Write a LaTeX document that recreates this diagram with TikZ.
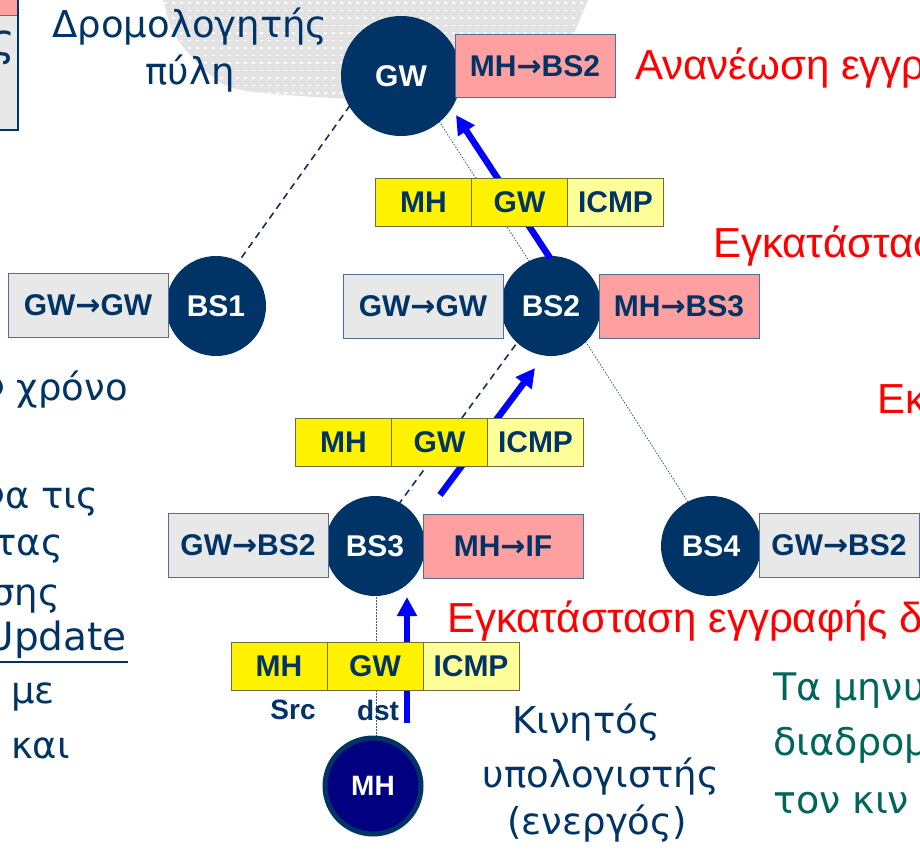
\documentclass[tikz,border=0pt]{standalone}
\usepackage{fontspec}
\setmainfont{Liberation Sans}
\newfontfamily\comic{DejaVu Sans}
\newfontfamily\arrowfont{DejaVu Sans}
\usetikzlibrary{arrows.meta}
\pgfdeclarelayer{blobl}
\pgfdeclarelayer{links}
\pgfsetlayers{blobl,links,main}
\newcommand{\tabarrow}{{\arrowfont\bfseries →}}
\definecolor{navy}{RGB}{0,51,102}
\definecolor{mhfill}{RGB}{0,0,128}
\definecolor{pinkbox}{RGB}{255,160,160}
\definecolor{graybox}{RGB}{232,232,232}
\definecolor{boxedge}{RGB}{80,110,150}
\definecolor{lightyel}{RGB}{255,255,153}
\definecolor{celledge}{RGB}{110,110,60}
\definecolor{blob}{RGB}{226,226,226}
\definecolor{tealtxt}{RGB}{0,102,92}
\definecolor{linecol}{RGB}{20,50,90}
\definecolor{dotcol}{RGB}{60,90,130}
\definecolor{arrowblue}{RGB}{0,0,255}
\tikzset{
  station/.style={circle, fill=navy, minimum size=100pt, inner sep=0pt, text=white, font=\fontsize{30}{30}\selectfont\bfseries},
  tabbox/.style={rectangle, draw=boxedge, line width=0.9pt, minimum width=160pt, minimum height=64pt, inner sep=0pt, text=navy, font=\fontsize{30}{30}\selectfont\bfseries},
  graytab/.style={tabbox, fill=graybox},
  pinktab/.style={tabbox, fill=pinkbox},
  cell/.style={rectangle, draw=celledge, line width=0.7pt, minimum width=96pt, minimum height=48pt, inner sep=0pt, text=navy, font=\fontsize{30}{30}\selectfont\bfseries},
  ycell/.style={cell, fill=yellow},
  lycell/.style={cell, fill=lightyel},
  redtxt/.style={text=red, font=\fontsize{42}{42}\selectfont, inner sep=0pt},
  comictxt/.style={text=navy, font=\comic\fontsize{37}{44}\selectfont, inner sep=0pt},
  greentxt/.style={text=tealtxt, font=\comic\fontsize{38}{44}\selectfont, inner sep=0pt},
  sublabel/.style={text=navy, font=\fontsize{28}{28}\selectfont\bfseries, inner sep=0pt},
  dashconn/.style={draw=linecol, line width=1.6pt, dash pattern=on 7pt off 5pt},
  dotconn/.style={draw=dotcol, line width=0.8pt, dash pattern=on 1.5pt off 1.5pt},
  flow/.style={draw=arrowblue, line width=6.5pt, -{Triangle[length=19pt,width=19pt]}},
}
\begin{document}
\begin{tikzpicture}[x=1pt,y=-1pt]
\useasboundingbox (0,0) rectangle (920,849);
\begin{pgfonlayer}{blobl}
\fill[white] (0,0) rectangle (920,849);
\begin{scope}
\clip plot[smooth cycle] coordinates {(160,-20) (163,0) (178,40) (225,85) (300,96) (420,100) (520,90) (560,60) (588,0) (595,-20) (380,-40)};
\fill[blob] (140,-10) rectangle (620,110);
\foreach \yy in {3,10.5,...,106} \draw[white, line width=1.3pt, dash pattern=on 3pt off 5pt] (140,\yy) -- (620,\yy);
\end{scope}
\end{pgfonlayer}
% top-left partial box
\fill[graybox] (-5,15) rectangle (18,130);
\fill[pinkbox] (-5,-5) rectangle (18,15);
\draw[boxedge, line width=1pt] (-5,15) -- (18,15);
\draw[navy, line width=1.5pt] (18,-5) -- (18,130) -- (-5,130);
\node[comictxt, font=\comic\fontsize{44}{44}\selectfont, anchor=base east] (tlS) at (16,55) {ς};
% stations
\node[station, minimum size=120pt] (GW) at (401,76) {GW};
\node[station] (BS1) at (216,306) {BS1};
\node[station] (BS2) at (551,306) {BS2};
\node[station] (BS3) at (375,546) {BS3};
\node[station] (BS4) at (711,546) {BS4};
\node[circle, fill=mhfill, draw=navy, line width=5pt, minimum size=96pt, inner sep=0pt, text=white, font=\fontsize{28}{28}\selectfont\bfseries] (MH) at (373,786) {MH};
% links (behind stations)
\begin{pgfonlayer}{links}
\draw[dashconn] ([xshift=-30pt]GW.center) -- ([xshift=-9pt]BS1.center);
\draw[dotconn] ([xshift=9pt]GW.center) -- ([xshift=7pt]BS2.center);
\draw[dotconn] ([xshift=12pt]BS2.center) -- ([xshift=5pt]BS4.center);
\draw[dashconn] ([xshift=-7pt]BS2.center) -- ([xshift=-7pt]BS3.center);
\draw[dotconn] ([xshift=1pt]BS3.center) -- ([xshift=3pt]MH.center);
\end{pgfonlayer}
% tables
\node[pinktab, minimum height=63pt] (tGW) at (535,66) {MH\tabarrow BS2};
\node[graytab] (tBS1) at (88,305) {GW\tabarrow GW};
\node[graytab] (tBS2L) at (423,306) {GW\tabarrow GW};
\node[pinktab] (tBS2R) at (679,306) {MH\tabarrow BS3};
\node[graytab] (tBS3L) at (248,545) {GW\tabarrow BS2};
\node[pinktab] (tBS3R) at (503,546) {MH\tabarrow IF};
\node[graytab] (tBS4) at (839,545) {GW\tabarrow BS2};
% blue flow arrows
\coordinate (a1s) at (550,258);
\coordinate (a1e) at (456,115);
\coordinate (a2s) at (440,495);
\coordinate (a2e) at (535,368);
\coordinate (a3s) at (407,723);
\coordinate (a3e) at (407,597);
\draw[flow] (a1s) -- (a1e);
\draw[flow] (a2s) -- (a2e);
\draw[flow] (a3s) -- (a3e);
% packets
\node[ycell] (p1a) at (423.5,202) {MH};
\node[ycell] (p1b) at (519.5,202) {GW};
\node[lycell] (p1c) at (615.5,202) {ICMP};
\node[ycell] (p2a) at (343.5,442) {MH};
\node[ycell] (p2b) at (439.5,442) {GW};
\node[lycell] (p2c) at (535.5,442) {ICMP};
\node[ycell] (p3a) at (279,666) {MH};
\node[ycell] (p3b) at (375,666) {GW};
\node[lycell] (p3c) at (471,666) {ICMP};
\node[sublabel] (src) at (293,710) {Src};
\node[sublabel] (dst) at (378,710) {dst};
% texts
\node[comictxt, anchor=base] (gwl1) at (190,37) {Δρομολογητής};
\node[comictxt, anchor=base] (gwl2) at (190,84) {πύλη};
\node[redtxt, anchor=base west] (r1) at (635,79) {Ανανέωση εγγρ};
\node[redtxt, anchor=base west] (r2) at (713,257) {Εγκατάστασ};
\node[redtxt, anchor=base west] (r3) at (877,413) {Εκ};
\node[redtxt, anchor=base west] (r4) at (447,632) {Εγκατάσταση εγγραφής δ};
\node[greentxt, anchor=base west] (g1) at (773,700) {Τα μηνυ};
\node[greentxt, anchor=base west] (g2) at (773,755) {διαδρομ};
\node[greentxt, anchor=base west] (g3) at (773,813) {τον κιν};
\node[comictxt, anchor=base] (m1) at (586,733) {Κινητός};
\node[comictxt, anchor=base] (m2) at (601,787) {υπολογιστής};
\node[comictxt, anchor=base] (m3) at (597,834) {(ενεργός)};
\node[comictxt, anchor=base east] (l1) at (128,400) {ν χρόνο};
\node[comictxt, anchor=base east] (l2) at (98,508) {να τις};
\node[comictxt, anchor=base east] (l3) at (63,555) {τας};
\node[comictxt, anchor=base east] (l4) at (60,605) {σης};
\node[comictxt, font=\comic\fontsize{39}{44}\selectfont, anchor=base east] (l5) at (127,650) {Update};
\draw[navy, line width=2.5pt] (0,662) -- (128,662);
\node[comictxt, anchor=base east] (l6) at (55,703) {με};
\node[comictxt, anchor=base east] (l7) at (70,758) {και};
\end{tikzpicture}
\end{document}
